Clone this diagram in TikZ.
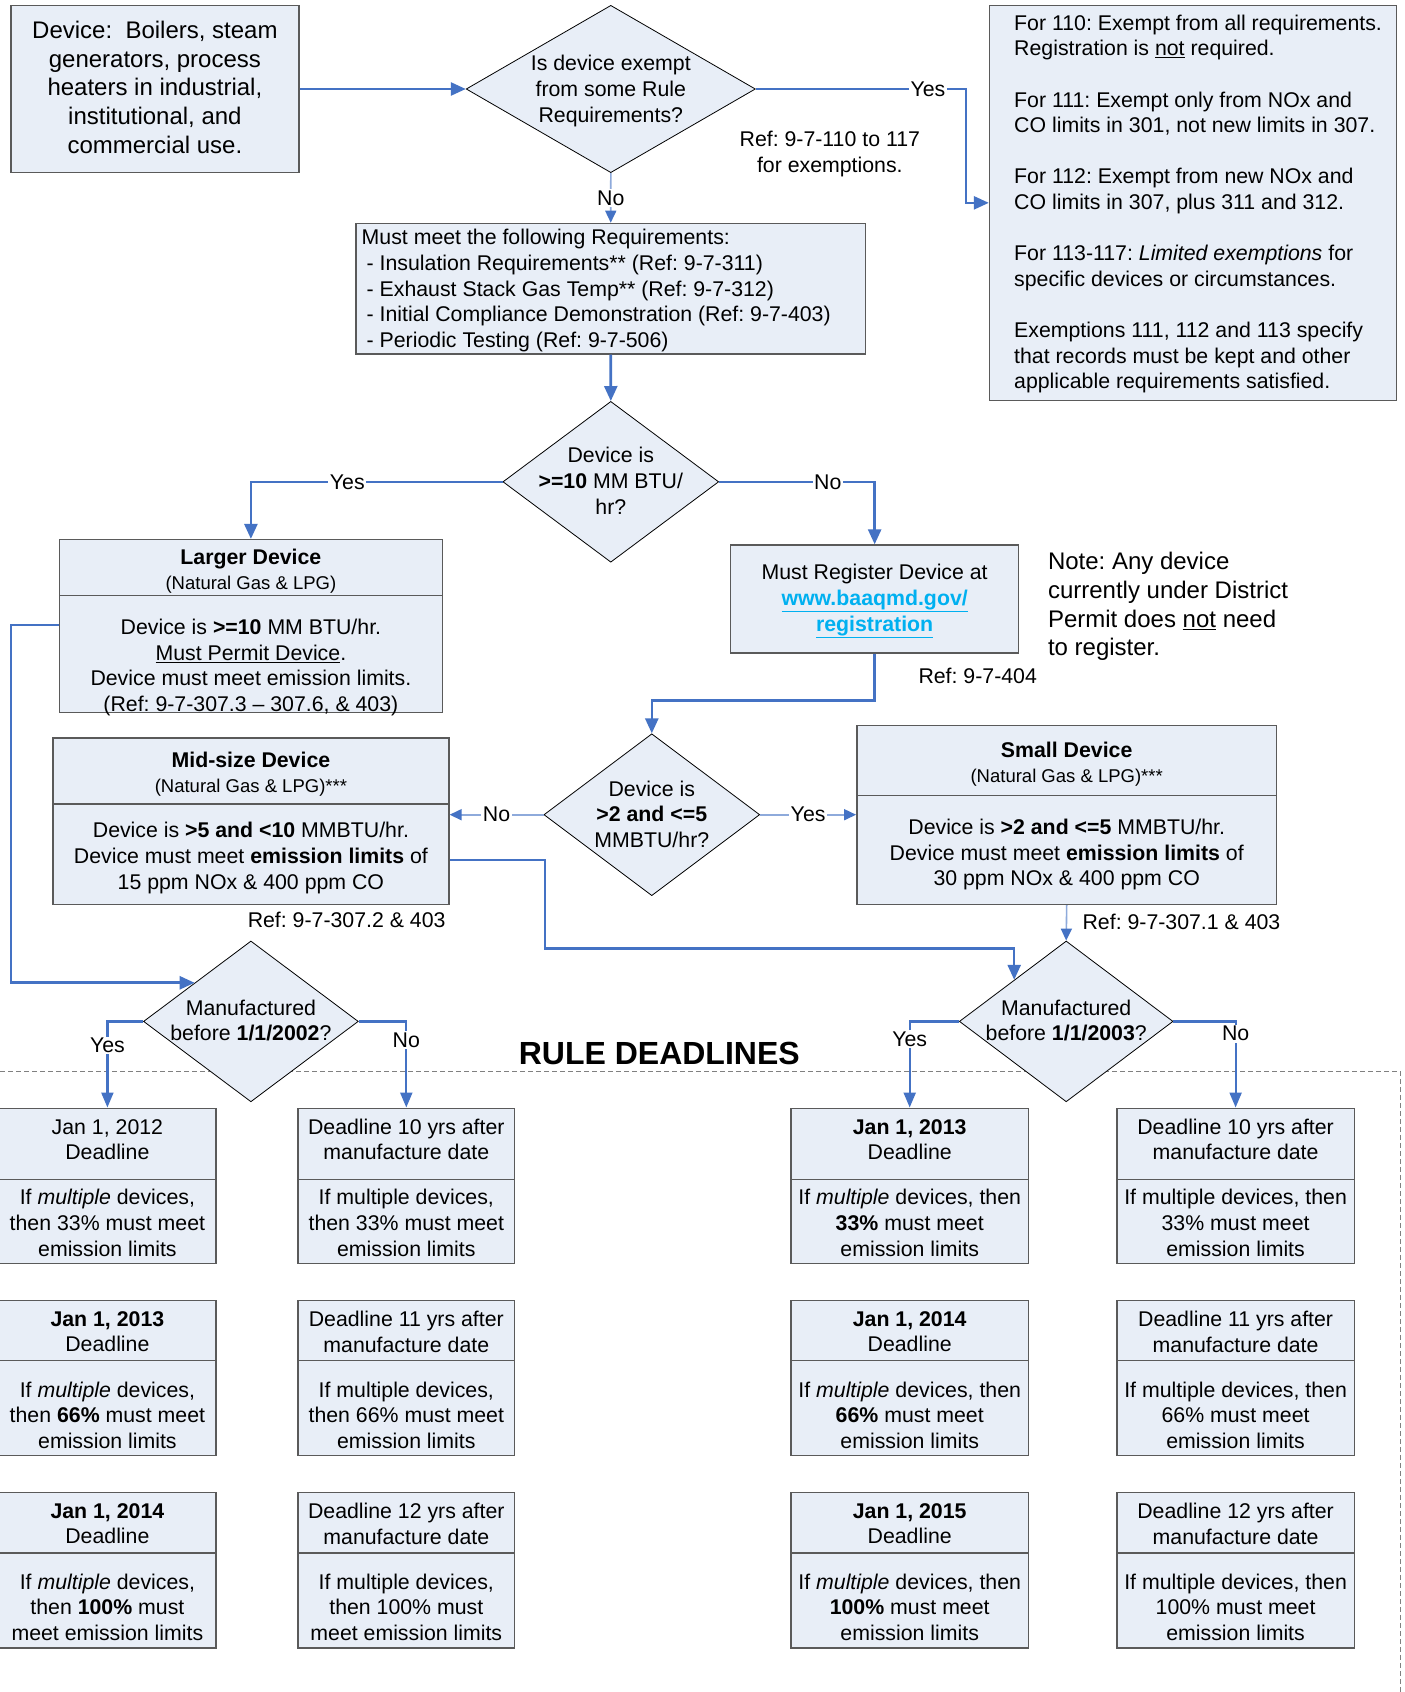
\documentclass[tikz,border=0pt]{standalone}
\usepackage{fontspec}
\setmainfont{Liberation Sans}
\frenchspacing
\usetikzlibrary{shapes.geometric,arrows.meta,calc}
\definecolor{boxfill}{HTML}{E8EEF7}
\definecolor{boxline}{HTML}{5A5A5A}
\definecolor{cblue}{HTML}{4472C4}
\definecolor{lblue}{HTML}{8EAADB}
\definecolor{linkc}{HTML}{00B0F0}
\definecolor{dashc}{HTML}{808080}
\newcommand{\dlbox}[8]{%
  \node[bx,minimum width=#3,minimum height={#5-#4}] (#1T) at (#2,{(#4+#5)/2}) {};
  \node[bx,minimum width=#3,minimum height={#6-#5}] (#1B) at (#2,{(#5+#6)/2}) {};
  \node[txt] (#1Tt) at (#2,{#4+31.3}) {#7};
  \node[txt] (#1Bt) at (#2,{#6-40.7}) {#8};
}
\begin{document}
\begin{tikzpicture}[x=1pt,y=-1pt,
 bx/.style={rectangle,draw=boxline,fill=boxfill,line width=1.4pt,inner sep=0pt},
 dia/.style={diamond,draw=black,fill=boxfill,line width=0.8pt,inner sep=0pt},
 txt/.style={align=center,font=\fontsize{21.3}{25.6}\selectfont,inner sep=0pt},
 ltxt/.style={align=left,font=\fontsize{21.3}{25.6}\selectfont,inner sep=0pt},
 subt/.style={font=\fontsize{18.5}{21}\selectfont,inner sep=0pt},
 hdr/.style={font=\bfseries\fontsize{21.3}{25.6}\selectfont,inner sep=0pt},
 conn/.style={draw=cblue,line width=2.6pt,-{Triangle[length=15pt,width=13pt]}},
 dconn/.style={draw=cblue,line width=2.2pt,-{Triangle[length=15pt,width=12pt]}},
 lconn/.style={draw=lblue,line width=1.6pt,-{Triangle[length=12pt,width=11pt,color=cblue]}},
 lbl/.style={fill=white,inner sep=1.5pt,font=\fontsize{21.3}{25.6}\selectfont},
]
\useasboundingbox (0,0) rectangle (1405,1692);
\fill[white] (0,0) rectangle (1405,1692);

% deadline region
\draw[dashc,line width=1.2pt,dash pattern=on 5pt off 3pt] (0,1071.5) -- (1400.7,1071.5) -- (1400.7,1692);
\node[font=\bfseries\fontsize{32}{38}\selectfont,inner sep=0pt] (rule) at (659.3,1053.2) {RULE DEADLINES};

% top row
\node[bx,minimum width=288.2,minimum height=167.3] (dev) at (154.9,89) {};
\node[txt,font=\fontsize{24}{28.9}\selectfont] (devt) at (154.9,87.4) {Device:\ \ Boilers, steam\\generators, process\\heaters in industrial,\\institutional, and\\commercial use.};

\node[dia,minimum width=289.2,minimum height=167.3] (d1) at (610.8,89) {};
\node[txt] (d1t) at (610.8,91) {Is device exempt\\from some Rule\\Requirements?};
\node[txt] (ref1) at (829.8,153.8) {Ref: 9-7-110 to 117\\for exemptions.};

\node[bx,minimum width=406.8,minimum height=394.9] (ex) at (1192.9,202.85) {};
\node[ltxt,anchor=west] (ext) at (1014,204) {For 110: Exempt from all requirements.\\Registration is \underline{not} required.\\[25.6pt]For 111: Exempt only from NOx and\\CO limits in 301, not new limits in 307.\\[25.6pt]For 112: Exempt from new NOx and\\CO limits in 307, plus 311 and 312.\\[25.6pt]For 113-117: \textit{Limited exemptions} for\\specific devices or circumstances.\\[25.6pt]Exemptions 111, 112 and 113 specify\\that records must be kept and other\\applicable requirements satisfied.};

\node[bx,minimum width=509.5,minimum height=130.6] (req) at (610.75,288.7) {};
\node[ltxt,anchor=west] (reqt) at (361.5,290.5) {Must meet the following Requirements:\\\hspace*{5pt}- Insulation Requirements** (Ref: 9-7-311)\\\hspace*{5pt}- Exhaust Stack Gas Temp** (Ref: 9-7-312)\\\hspace*{5pt}- Initial Compliance Demonstration (Ref: 9-7-403)\\\hspace*{5pt}- Periodic Testing (Ref: 9-7-506)};

\node[dia,minimum width=215.8,minimum height=160.8] (d2) at (610.8,481.8) {};
\node[txt] (d2t) at (610.8,480.8) {Device is\\\textbf{>=10} MM BTU/\\hr?};

% larger device
\node[bx,minimum width=383,minimum height=56.1] (largeT) at (250.9,567.65) {};
\node[bx,minimum width=383,minimum height=116.5] (largeB) at (250.9,653.95) {};
\node[hdr] (largeh) at (250.9,559) {Larger Device};
\node[subt] (larges) at (250.9,584.9) {(Natural Gas \& LPG)};
\node[txt] (largebt) at (250.9,667.5) {Device is \textbf{>=10} MM BTU/hr.\\\underline{Must Permit Device}.\\Device must meet emission limits.\\(Ref: 9-7-307.3 – 307.6, \& 403)};

% register
\node[bx,minimum width=288.1,minimum height=107.8] (reg) at (874.65,598.9) {};
\node[txt] (regt) at (874.65,601) {Must Register Device at\\{\color{linkc}\bfseries\underline{www.baaqmd.gov/}}\\{\color{linkc}\bfseries\underline{registration}}};
\node[ltxt,anchor=west,font=\fontsize{24}{28.8}\selectfont] (note) at (1047.8,606.5) {Note: Any device\\currently under District\\Permit does \underline{not} need\\to register.};
\node[txt] (ref404) at (977.7,675.5) {Ref: 9-7-404};

\node[dia,minimum width=215.8,minimum height=161.9] (d4) at (651.8,814.7) {};
\node[txt] (d4t) at (651.8,814.1) {Device is\\\textbf{>2 and <=5}\\MMBTU/hr?};

% mid-size
\node[bx,minimum width=396,minimum height=66] (midT) at (250.9,771) {};
\node[bx,minimum width=396,minimum height=100.3] (midB) at (250.9,854.15) {};
\node[hdr] (midh) at (250.9,760) {Mid-size Device};
\node[subt] (mids) at (250.9,787.8) {(Natural Gas \& LPG)***};
\node[txt] (midbt) at (250.9,857.9) {Device is \textbf{>5 and <10} MMBTU/hr.\\Device must meet \textbf{emission limits} of\\15 ppm NOx \& 400 ppm CO};
\node[txt,anchor=east] (ref3072) at (445.7,919.4) {Ref: 9-7-307.2 \& 403};

% small
\node[bx,minimum width=419.8,minimum height=70.1] (smallT) at (1066.7,760.25) {};
\node[bx,minimum width=419.8,minimum height=109] (smallB) at (1066.7,849.8) {};
\node[hdr] (smallh) at (1066.7,750) {Small Device};
\node[subt] (smalls) at (1066.7,778) {(Natural Gas \& LPG)***};
\node[txt] (smallbt) at (1066.7,854.7) {Device is \textbf{>2 and <=5} MMBTU/hr.\\Device must meet \textbf{emission limits} of\\30 ppm NOx \& 400 ppm CO};
\node[txt,anchor=west] (ref3071) at (1082.4,921.6) {Ref: 9-7-307.1 \& 403};

% manufactured diamonds
\node[dia,minimum width=214.8,minimum height=160.8] (d5) at (250.9,1021.4) {};
\node[txt] (d5t) at (250.9,1020.3) {Manufactured\\before \textbf{1/1/2002}?};
\node[dia,minimum width=213.7,minimum height=160.8] (d6) at (1066.2,1021.4) {};
\node[txt] (d6t) at (1066.2,1020.3) {Manufactured\\before \textbf{1/1/2003}?};

% deadline boxes
\dlbox{c1r1}{107.4}{216.8}{1108.2}{1179.5}{1263.6}{Jan 1, 2012\\Deadline}{If \textit{multiple} devices,\\then 33\% must meet\\emission limits}
\dlbox{c1r2}{107.4}{216.8}{1300.3}{1360.7}{1455.7}{\textbf{Jan 1, 2013}\\Deadline}{If \textit{multiple} devices,\\then \textbf{66\%} must meet\\emission limits}
\dlbox{c1r3}{107.4}{216.8}{1492.4}{1552.8}{1647.8}{\textbf{Jan 1, 2014}\\Deadline}{If \textit{multiple} devices,\\then \textbf{100\%} must\\meet emission limits}
\dlbox{c2r1}{406.3}{216.9}{1108.2}{1179.5}{1263.6}{Deadline 10 yrs after\\manufacture date}{If multiple devices,\\then 33\% must meet\\emission limits}
\dlbox{c2r2}{406.3}{216.9}{1300.3}{1360.7}{1455.7}{Deadline 11 yrs after\\manufacture date}{If multiple devices,\\then 66\% must meet\\emission limits}
\dlbox{c2r3}{406.3}{216.9}{1492.4}{1552.8}{1647.8}{Deadline 12 yrs after\\manufacture date}{If multiple devices,\\then 100\% must\\meet emission limits}
\dlbox{c3r1}{909.7}{237.4}{1108.2}{1179.5}{1263.6}{\textbf{Jan 1, 2013}\\Deadline}{If \textit{multiple} devices, then\\\textbf{33\%} must meet\\emission limits}
\dlbox{c3r2}{909.7}{237.4}{1300.3}{1360.7}{1455.7}{\textbf{Jan 1, 2014}\\Deadline}{If \textit{multiple} devices, then\\\textbf{66\%} must meet\\emission limits}
\dlbox{c3r3}{909.7}{237.4}{1492.4}{1552.8}{1647.8}{\textbf{Jan 1, 2015}\\Deadline}{If \textit{multiple} devices, then\\\textbf{100\%} must meet\\emission limits}
\dlbox{c4r1}{1235.6}{237.4}{1108.2}{1179.5}{1263.6}{Deadline 10 yrs after\\manufacture date}{If multiple devices, then\\33\% must meet\\emission limits}
\dlbox{c4r2}{1235.6}{237.4}{1300.3}{1360.7}{1455.7}{Deadline 11 yrs after\\manufacture date}{If multiple devices, then\\66\% must meet\\emission limits}
\dlbox{c4r3}{1235.6}{237.4}{1492.4}{1552.8}{1647.8}{Deadline 12 yrs after\\manufacture date}{If multiple devices, then\\100\% must meet\\emission limits}

% connectors
\coordinate (d5in) at ($(d5.west)!0.478!(d5.north)$);
\coordinate (d6in) at ($(d6.west)!0.515!(d6.north)$);
\draw[conn] (dev.east) -- (d1.west);
\draw[conn] (d1.east) -- node[lbl,pos=0.82] (lyes1) {Yes} (965.8,89) |- (ex.west);
\draw[lconn] (d1.south) -- node[lbl] (lno1) {No} (req.north);
\draw[conn] (req.south) -- (d2.north);
\draw[conn] (d2.west) -- node[lbl,pos=0.617] (lyes2) {Yes} (largeT.north |- d2.west) -- (largeT.north);
\draw[conn] (d2.east) -- node[lbl,pos=0.699] (lno2) {No} (reg.north |- d2.east) -- (reg.north);
\draw[conn] (largeB.west |- 0,624.8) -- (10.8,624.8) |- (d5in);
\draw[conn] (reg.south) -- (reg.south |- 0,700.3) -| (d4.north);
\draw[lconn] (d4.west) -- node[lbl] (lno4) {No} (midB.east |- d4.west);
\draw[lconn] (d4.east) -- node[lbl] (lyes4) {Yes} (smallB.west |- d4.east);
\draw[conn] (midB.east |- 0,860) -- (545,860) |- (d6in |- 0,948.5) -- (d6in);
\draw[lconn] (smallB.south) -- (d6.north);
\draw[dconn] (d5.west) -- (c1r1T.north |- d5.west) -- node[lbl,pos=0.28] (lyes5) {Yes} (c1r1T.north);
\draw[dconn] (d5.east) -- (c2r1T.north |- d5.east) -- node[lbl,pos=0.218] (lno5) {No} (c2r1T.north);
\draw[dconn] (d6.west) -- (c3r1T.north |- d6.west) -- node[lbl,pos=0.205] (lyes6) {Yes} (c3r1T.north);
\draw[dconn] (d6.east) -- (c4r1T.north |- d6.east) -- node[lbl,pos=0.143] (lno6) {No} (c4r1T.north);
\end{tikzpicture}
\end{document}
